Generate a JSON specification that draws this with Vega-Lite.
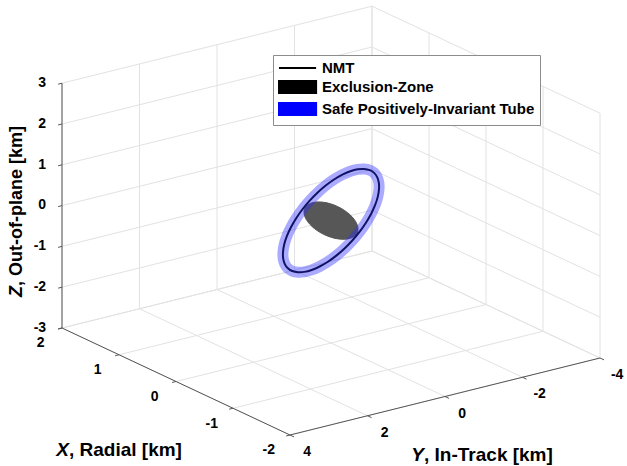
{
  "$schema": "https://vega.github.io/schema/vega-lite/v6.json",
  "width": 627,
  "height": 466,
  "padding": 0,
  "autosize": {"type": "none"},
  "background": "white",
  "config": {"view": {"stroke": null}},
  "data": {"values": [
    {"k":"g","s":1,"x":2,"y":4,"z":-3},{"k":"g","s":1,"x":2,"y":-4,"z":-3},
    {"k":"g","s":2,"x":2,"y":4,"z":-2},{"k":"g","s":2,"x":2,"y":-4,"z":-2},
    {"k":"g","s":3,"x":2,"y":4,"z":-1},{"k":"g","s":3,"x":2,"y":-4,"z":-1},
    {"k":"g","s":4,"x":2,"y":4,"z":0},{"k":"g","s":4,"x":2,"y":-4,"z":0},
    {"k":"g","s":5,"x":2,"y":4,"z":1},{"k":"g","s":5,"x":2,"y":-4,"z":1},
    {"k":"g","s":6,"x":2,"y":4,"z":2},{"k":"g","s":6,"x":2,"y":-4,"z":2},
    {"k":"g","s":7,"x":2,"y":4,"z":3},{"k":"g","s":7,"x":2,"y":-4,"z":3},
    {"k":"g","s":8,"x":2,"y":-4,"z":-3},{"k":"g","s":8,"x":2,"y":-4,"z":3},
    {"k":"g","s":9,"x":2,"y":-2,"z":-3},{"k":"g","s":9,"x":2,"y":-2,"z":3},
    {"k":"g","s":10,"x":2,"y":0,"z":-3},{"k":"g","s":10,"x":2,"y":0,"z":3},
    {"k":"g","s":11,"x":2,"y":2,"z":-3},{"k":"g","s":11,"x":2,"y":2,"z":3},
    {"k":"g","s":12,"x":2,"y":4,"z":-3},{"k":"g","s":12,"x":2,"y":4,"z":3},
    {"k":"g","s":13,"x":2,"y":-4,"z":-3},{"k":"g","s":13,"x":-2,"y":-4,"z":-3},
    {"k":"g","s":14,"x":2,"y":-4,"z":-2},{"k":"g","s":14,"x":-2,"y":-4,"z":-2},
    {"k":"g","s":15,"x":2,"y":-4,"z":-1},{"k":"g","s":15,"x":-2,"y":-4,"z":-1},
    {"k":"g","s":16,"x":2,"y":-4,"z":0},{"k":"g","s":16,"x":-2,"y":-4,"z":0},
    {"k":"g","s":17,"x":2,"y":-4,"z":1},{"k":"g","s":17,"x":-2,"y":-4,"z":1},
    {"k":"g","s":18,"x":2,"y":-4,"z":2},{"k":"g","s":18,"x":-2,"y":-4,"z":2},
    {"k":"g","s":19,"x":2,"y":-4,"z":3},{"k":"g","s":19,"x":-2,"y":-4,"z":3},
    {"k":"g","s":20,"x":-2,"y":-4,"z":-3},{"k":"g","s":20,"x":-2,"y":-4,"z":3},
    {"k":"g","s":21,"x":-1,"y":-4,"z":-3},{"k":"g","s":21,"x":-1,"y":-4,"z":3},
    {"k":"g","s":22,"x":0,"y":-4,"z":-3},{"k":"g","s":22,"x":0,"y":-4,"z":3},
    {"k":"g","s":23,"x":1,"y":-4,"z":-3},{"k":"g","s":23,"x":1,"y":-4,"z":3},
    {"k":"g","s":24,"x":2,"y":-4,"z":-3},{"k":"g","s":24,"x":2,"y":-4,"z":3},
    {"k":"g","s":25,"x":-2,"y":4,"z":-3},{"k":"g","s":25,"x":-2,"y":-4,"z":-3},
    {"k":"g","s":26,"x":-1,"y":4,"z":-3},{"k":"g","s":26,"x":-1,"y":-4,"z":-3},
    {"k":"g","s":27,"x":0,"y":4,"z":-3},{"k":"g","s":27,"x":0,"y":-4,"z":-3},
    {"k":"g","s":28,"x":1,"y":4,"z":-3},{"k":"g","s":28,"x":1,"y":-4,"z":-3},
    {"k":"g","s":29,"x":2,"y":4,"z":-3},{"k":"g","s":29,"x":2,"y":-4,"z":-3},
    {"k":"g","s":30,"x":2,"y":-4,"z":-3},{"k":"g","s":30,"x":-2,"y":-4,"z":-3},
    {"k":"g","s":31,"x":2,"y":-2,"z":-3},{"k":"g","s":31,"x":-2,"y":-2,"z":-3},
    {"k":"g","s":32,"x":2,"y":0,"z":-3},{"k":"g","s":32,"x":-2,"y":0,"z":-3},
    {"k":"g","s":33,"x":2,"y":2,"z":-3},{"k":"g","s":33,"x":-2,"y":2,"z":-3},
    {"k":"g","s":34,"x":2,"y":4,"z":-3},{"k":"g","s":34,"x":-2,"y":4,"z":-3},

    {"k":"a","s":101,"x":2,"y":4,"z":-3},{"k":"a","s":101,"x":-2,"y":4,"z":-3},
    {"k":"a","s":102,"x":-2,"y":4,"z":-3},{"k":"a","s":102,"x":-2,"y":-4,"z":-3},
    {"k":"a","s":103,"x":2,"y":4,"z":-3},{"k":"a","s":103,"x":2,"y":4,"z":3},
    {"k":"a","s":111,"x":-2,"y":4,"z":-3},{"k":"a","s":111,"x":-2,"y":4.1,"z":-3},
    {"k":"a","s":112,"x":-1,"y":4,"z":-3},{"k":"a","s":112,"x":-1,"y":4.1,"z":-3},
    {"k":"a","s":113,"x":0,"y":4,"z":-3},{"k":"a","s":113,"x":0,"y":4.1,"z":-3},
    {"k":"a","s":114,"x":1,"y":4,"z":-3},{"k":"a","s":114,"x":1,"y":4.1,"z":-3},
    {"k":"a","s":115,"x":2,"y":4,"z":-3},{"k":"a","s":115,"x":2,"y":4.1,"z":-3},
    {"k":"a","s":121,"x":-2,"y":-4,"z":-3},{"k":"a","s":121,"x":-2.07,"y":-4,"z":-3},
    {"k":"a","s":122,"x":-2,"y":-2,"z":-3},{"k":"a","s":122,"x":-2.07,"y":-2,"z":-3},
    {"k":"a","s":123,"x":-2,"y":0,"z":-3},{"k":"a","s":123,"x":-2.07,"y":0,"z":-3},
    {"k":"a","s":124,"x":-2,"y":2,"z":-3},{"k":"a","s":124,"x":-2.07,"y":2,"z":-3},
    {"k":"a","s":125,"x":-2,"y":4,"z":-3},{"k":"a","s":125,"x":-2.07,"y":4,"z":-3},
    {"k":"a","s":131,"x":2,"y":4,"z":-3},{"k":"a","s":131,"x":2,"y":4.1,"z":-3},
    {"k":"a","s":132,"x":2,"y":4,"z":-2},{"k":"a","s":132,"x":2,"y":4.1,"z":-2},
    {"k":"a","s":133,"x":2,"y":4,"z":-1},{"k":"a","s":133,"x":2,"y":4.1,"z":-1},
    {"k":"a","s":134,"x":2,"y":4,"z":0},{"k":"a","s":134,"x":2,"y":4.1,"z":0},
    {"k":"a","s":135,"x":2,"y":4,"z":1},{"k":"a","s":135,"x":2,"y":4.1,"z":1},
    {"k":"a","s":136,"x":2,"y":4,"z":2},{"k":"a","s":136,"x":2,"y":4.1,"z":2},
    {"k":"a","s":137,"x":2,"y":4,"z":3},{"k":"a","s":137,"x":2,"y":4.1,"z":3},

    {"k":"n","t":0,"x":0.5,"y":0,"z":-0.05},
    {"k":"n","t":10,"x":0.492,"y":-0.174,"z":0.125},
    {"k":"n","t":20,"x":0.47,"y":-0.342,"z":0.295},
    {"k":"n","t":30,"x":0.433,"y":-0.5,"z":0.457},
    {"k":"n","t":40,"x":0.383,"y":-0.643,"z":0.605},
    {"k":"n","t":50,"x":0.321,"y":-0.766,"z":0.734},
    {"k":"n","t":60,"x":0.25,"y":-0.866,"z":0.841},
    {"k":"n","t":70,"x":0.171,"y":-0.94,"z":0.923},
    {"k":"n","t":80,"x":0.087,"y":-0.985,"z":0.976},
    {"k":"n","t":90,"x":0,"y":-1,"z":1},
    {"k":"n","t":100,"x":-0.087,"y":-0.985,"z":0.994},
    {"k":"n","t":110,"x":-0.171,"y":-0.94,"z":0.957},
    {"k":"n","t":120,"x":-0.25,"y":-0.866,"z":0.891},
    {"k":"n","t":130,"x":-0.321,"y":-0.766,"z":0.798},
    {"k":"n","t":140,"x":-0.383,"y":-0.643,"z":0.681},
    {"k":"n","t":150,"x":-0.433,"y":-0.5,"z":0.543},
    {"k":"n","t":160,"x":-0.47,"y":-0.342,"z":0.389},
    {"k":"n","t":170,"x":-0.492,"y":-0.174,"z":0.223},
    {"k":"n","t":180,"x":-0.5,"y":0,"z":0.05},
    {"k":"n","t":190,"x":-0.492,"y":0.174,"z":-0.125},
    {"k":"n","t":200,"x":-0.47,"y":0.342,"z":-0.295},
    {"k":"n","t":210,"x":-0.433,"y":0.5,"z":-0.457},
    {"k":"n","t":220,"x":-0.383,"y":0.643,"z":-0.605},
    {"k":"n","t":230,"x":-0.321,"y":0.766,"z":-0.734},
    {"k":"n","t":240,"x":-0.25,"y":0.866,"z":-0.841},
    {"k":"n","t":250,"x":-0.171,"y":0.94,"z":-0.923},
    {"k":"n","t":260,"x":-0.087,"y":0.985,"z":-0.976},
    {"k":"n","t":270,"x":0,"y":1,"z":-1},
    {"k":"n","t":280,"x":0.087,"y":0.985,"z":-0.994},
    {"k":"n","t":290,"x":0.171,"y":0.94,"z":-0.957},
    {"k":"n","t":300,"x":0.25,"y":0.866,"z":-0.891},
    {"k":"n","t":310,"x":0.321,"y":0.766,"z":-0.798},
    {"k":"n","t":320,"x":0.383,"y":0.643,"z":-0.681},
    {"k":"n","t":330,"x":0.433,"y":0.5,"z":-0.543},
    {"k":"n","t":340,"x":0.47,"y":0.342,"z":-0.389},
    {"k":"n","t":350,"x":0.492,"y":0.174,"z":-0.223},

    {"k":"e","t":0,"x":-0.46,"y":0,"z":0},
    {"k":"e","t":15,"x":-0.444,"y":0.044,"z":-0.079},
    {"k":"e","t":30,"x":-0.398,"y":0.085,"z":-0.153},
    {"k":"e","t":45,"x":-0.325,"y":0.12,"z":-0.216},
    {"k":"e","t":60,"x":-0.23,"y":0.147,"z":-0.264},
    {"k":"e","t":75,"x":-0.119,"y":0.164,"z":-0.295},
    {"k":"e","t":90,"x":0,"y":0.17,"z":-0.305},
    {"k":"e","t":105,"x":0.119,"y":0.164,"z":-0.295},
    {"k":"e","t":120,"x":0.23,"y":0.147,"z":-0.264},
    {"k":"e","t":135,"x":0.325,"y":0.12,"z":-0.216},
    {"k":"e","t":150,"x":0.398,"y":0.085,"z":-0.153},
    {"k":"e","t":165,"x":0.444,"y":0.044,"z":-0.079},
    {"k":"e","t":180,"x":0.46,"y":0,"z":0},
    {"k":"e","t":195,"x":0.444,"y":-0.044,"z":0.079},
    {"k":"e","t":210,"x":0.398,"y":-0.085,"z":0.153},
    {"k":"e","t":225,"x":0.325,"y":-0.12,"z":0.216},
    {"k":"e","t":240,"x":0.23,"y":-0.147,"z":0.264},
    {"k":"e","t":255,"x":0.119,"y":-0.164,"z":0.295},
    {"k":"e","t":270,"x":0,"y":-0.17,"z":0.305},
    {"k":"e","t":285,"x":-0.119,"y":-0.164,"z":0.295},
    {"k":"e","t":300,"x":-0.23,"y":-0.147,"z":0.264},
    {"k":"e","t":315,"x":-0.325,"y":-0.12,"z":0.216},
    {"k":"e","t":330,"x":-0.398,"y":-0.085,"z":0.153},
    {"k":"e","t":345,"x":-0.444,"y":-0.044,"z":0.079},

    {"k":"zl","lab":"3","x":2,"y":4.41,"z":3.1},
    {"k":"zl","lab":"2","x":2,"y":4.41,"z":2.1},
    {"k":"zl","lab":"1","x":2,"y":4.41,"z":1.1},
    {"k":"zl","lab":"0","x":2,"y":4.41,"z":0.1},
    {"k":"zl","lab":"-1","x":2,"y":4.41,"z":-0.9},
    {"k":"zl","lab":"-2","x":2,"y":4.41,"z":-1.9},
    {"k":"zl","lab":"-3","x":2,"y":4.41,"z":-2.9},
    {"k":"xl","lab":"2","x":2,"y":4.55,"z":-3.25},
    {"k":"xl","lab":"1","x":1,"y":4.55,"z":-3.25},
    {"k":"xl","lab":"0","x":0,"y":4.55,"z":-3.25},
    {"k":"xl","lab":"-1","x":-1,"y":4.55,"z":-3.25},
    {"k":"xl","lab":"-2","x":-2,"y":4.55,"z":-3.25},
    {"k":"yl","lab":"4","x":-2.3,"y":4,"z":-3.22},
    {"k":"yl","lab":"2","x":-2.3,"y":2,"z":-3.22},
    {"k":"yl","lab":"0","x":-2.3,"y":0,"z":-3.22},
    {"k":"yl","lab":"-2","x":-2.3,"y":-2,"z":-3.22},
    {"k":"yl","lab":"-4","x":-2.3,"y":-4,"z":-3.22},

    {"k":"ti","lab":"X","x":-1.025,"y":8.27,"z":-3},
    {"k":"tr","lab":", Radial [km]","x":-1.025,"y":8.27,"z":-3},
    {"k":"ti","lab":"Y","x":-3.303,"y":2.458,"z":-3},
    {"k":"tr","lab":", In-Track [km]","x":-3.303,"y":2.458,"z":-3},
    {"k":"zi","lab":"Z","x":2,"y":5.161,"z":-1.697},
    {"k":"zr","lab":", Out-of-plane [km]","x":2,"y":5.161,"z":-1.697},

    {"k":"leg","series":"NMT","x":0,"y":0,"z":0},
    {"k":"leg","series":"Exclusion-Zone","x":0,"y":0,"z":0},
    {"k":"leg","series":"Safe Positively-Invariant Tube","x":0,"y":0,"z":0}
  ]},
  "transform": [
    {"calculate": "-57*datum.x - 38.75*datum.y", "as": "px"},
    {"calculate": "26.75*datum.x - 9.625*datum.y + 40.8*datum.z", "as": "py"}
  ],
  "encoding": {
    "x": {"field": "px", "type": "quantitative", "scale": {"domain": [-331, 296], "nice": false, "zero": false}, "axis": null},
    "y": {"field": "py", "type": "quantitative", "scale": {"domain": [-245.4, 220.6], "nice": false, "zero": false}, "axis": null}
  },
  "layer": [
    {
      "transform": [{"filter": "datum.k == 'g'"}],
      "mark": {"type": "line", "stroke": "#e2e2e2", "strokeWidth": 1},
      "encoding": {"detail": {"field": "s", "type": "nominal"}}
    },
    {
      "transform": [{"filter": "datum.k == 'a'"}],
      "mark": {"type": "line", "stroke": "#555555", "strokeWidth": 1},
      "encoding": {"detail": {"field": "s", "type": "nominal"}}
    },
    {
      "transform": [{"filter": "datum.k == 'e'"}],
      "mark": {"type": "line", "interpolate": "cardinal-closed", "fill": "#575757", "stroke": "#575757", "strokeWidth": 1},
      "encoding": {"order": {"field": "t", "type": "quantitative"}}
    },
    {
      "transform": [{"filter": "datum.k == 'n'"}],
      "mark": {"type": "line", "interpolate": "cardinal-closed", "stroke": "#000000", "strokeWidth": 2},
      "encoding": {"order": {"field": "t", "type": "quantitative"}}
    },
    {
      "transform": [{"filter": "datum.k == 'n'"}],
      "mark": {"type": "line", "interpolate": "cardinal-closed", "stroke": "#2a2aff", "strokeWidth": 11, "strokeOpacity": 0.4},
      "encoding": {"order": {"field": "t", "type": "quantitative"}}
    },
    {
      "transform": [{"filter": "datum.k == 'zl'"}],
      "mark": {"type": "text", "align": "right", "baseline": "middle", "font": "Liberation Sans", "fontWeight": "bold", "fontSize": 14, "color": "#000000"},
      "encoding": {"text": {"field": "lab"}}
    },
    {
      "transform": [{"filter": "datum.k == 'xl' || datum.k == 'yl'"}],
      "mark": {"type": "text", "align": "center", "baseline": "middle", "font": "Liberation Sans", "fontWeight": "bold", "fontSize": 14, "color": "#000000"},
      "encoding": {"text": {"field": "lab"}}
    },
    {
      "transform": [{"filter": "datum.k == 'ti'"}],
      "mark": {"type": "text", "align": "right", "baseline": "middle", "font": "Liberation Sans", "fontWeight": "bold", "fontStyle": "italic", "fontSize": 19, "color": "#000000"},
      "encoding": {"text": {"field": "lab"}}
    },
    {
      "transform": [{"filter": "datum.k == 'tr'"}],
      "mark": {"type": "text", "align": "left", "baseline": "middle", "font": "Liberation Sans", "fontWeight": "bold", "fontSize": 19, "color": "#000000"},
      "encoding": {"text": {"field": "lab"}}
    },
    {
      "transform": [{"filter": "datum.k == 'zi'"}],
      "mark": {"type": "text", "angle": 270, "align": "right", "baseline": "middle", "font": "Liberation Sans", "fontWeight": "bold", "fontStyle": "italic", "fontSize": 18, "color": "#000000"},
      "encoding": {"text": {"field": "lab"}}
    },
    {
      "transform": [{"filter": "datum.k == 'zr'"}],
      "mark": {"type": "text", "angle": 270, "align": "left", "baseline": "middle", "font": "Liberation Sans", "fontWeight": "bold", "fontSize": 18, "color": "#000000"},
      "encoding": {"text": {"field": "lab"}}
    },
    {
      "transform": [{"filter": "datum.k == 'leg'"}],
      "mark": {"type": "point", "filled": true, "opacity": 0},
      "encoding": {
        "fill": {"field": "series", "type": "nominal",
          "scale": {"domain": ["NMT", "Exclusion-Zone", "Safe Positively-Invariant Tube"], "range": ["#000000", "#000000", "#0000ff"]},
          "legend": {"title": null, "orient": "none", "legendX": 273, "legendY": 55, "padding": 5, "strokeColor": "#8c8c8c", "fillColor": "#ffffff", "symbolSize": 196, "symbolStrokeWidth": 2, "symbolOpacity": 1, "labelFont": "Liberation Sans", "labelFontWeight": "bold", "labelFontSize": 15, "labelColor": "#000000", "labelOffset": 28, "rowPadding": 0, "labelLimit": 400}},
        "stroke": {"field": "series", "type": "nominal",
          "scale": {"domain": ["NMT", "Exclusion-Zone", "Safe Positively-Invariant Tube"], "range": ["#000000", "#000000", "#0000ff"]},
          "legend": {"title": null, "orient": "none", "legendX": 273, "legendY": 55, "padding": 5, "strokeColor": "#8c8c8c", "fillColor": "#ffffff", "symbolSize": 196, "symbolStrokeWidth": 2, "symbolOpacity": 1, "labelFont": "Liberation Sans", "labelFontWeight": "bold", "labelFontSize": 15, "labelColor": "#000000", "labelOffset": 28, "rowPadding": 0, "labelLimit": 400}},
        "shape": {"field": "series", "type": "nominal",
          "scale": {"domain": ["NMT", "Exclusion-Zone", "Safe Positively-Invariant Tube"], "range": ["M-1,0H4.3", "M-1,-0.86H4.3V0.86H-1Z", "M-1,-0.86H4.3V0.86H-1Z"]},
          "legend": {"title": null, "orient": "none", "legendX": 273, "legendY": 55, "padding": 5, "strokeColor": "#8c8c8c", "fillColor": "#ffffff", "symbolSize": 196, "symbolStrokeWidth": 2, "symbolOpacity": 1, "labelFont": "Liberation Sans", "labelFontWeight": "bold", "labelFontSize": 15, "labelColor": "#000000", "labelOffset": 28, "rowPadding": 0, "labelLimit": 400}}
      }
    }
  ]
}
